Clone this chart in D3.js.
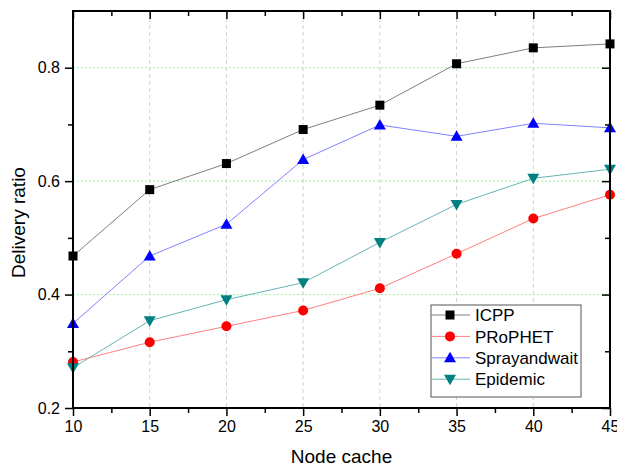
<!DOCTYPE html>
<html><head><meta charset="utf-8">
<script src="https://cdn.jsdelivr.net/npm/d3@7"></script>
<style>body{margin:0;background:#fff}svg{display:block}text{font-family:Arial,"Liberation Sans",sans-serif}</style>
</head><body>
<svg id="c" width="617" height="470"></svg>
<script>
const cache = [10, 15, 20, 25, 30, 35, 40, 45];
const icpp = [0.468, 0.585, 0.631, 0.691, 0.734, 0.807, 0.835, 0.842];
const prophet = [0.281, 0.316, 0.344, 0.372, 0.411, 0.472, 0.534, 0.576];
const spray = [0.349, 0.468, 0.524, 0.638, 0.699, 0.679, 0.702, 0.694];
const epidemic = [0.271, 0.354, 0.391, 0.421, 0.492, 0.559, 0.605, 0.621];
const xTicks = [10, 15, 20, 25, 30, 35, 40, 45];
const yTicks = [0.2, 0.4, 0.6, 0.8];

const series = [
  {name: "ICPP", vals: icpp, line: "#7f7f7f", fill: "#000000", sym: "square"},
  {name: "PRoPHET", vals: prophet, line: "#ff8080", fill: "#ff0000", sym: "circle"},
  {name: "Sprayandwait", vals: spray, line: "#8080ff", fill: "#0000ff", sym: "up"},
  {name: "Epidemic", vals: epidemic, line: "#66b3b3", fill: "#008080", sym: "down"}
];

const L = 73, R = 610, T = 11, B = 408;
const x = d3.scaleLinear().domain([10, 45]).range([L, R]);
const y = d3.scaleLinear().domain([0.2, 0.9]).range([B, T]);
const svg = d3.select("#c");

// grid
svg.append("g").selectAll("line").data(xTicks.slice(1, -1)).join("line")
  .attr("x1", d => x(d)).attr("x2", d => x(d)).attr("y1", T).attr("y2", B)
  .attr("stroke", "#d0d0d0").attr("stroke-width", 1).attr("stroke-dasharray", "4,3");
svg.append("g").selectAll("line").data(yTicks.slice(1)).join("line")
  .attr("x1", L).attr("x2", R).attr("y1", d => y(d)).attr("y2", d => y(d))
  .attr("stroke", "#a0f0a0").attr("stroke-width", 1).attr("stroke-dasharray", "2,2");

// symbols
function drawSym(g, sym, cx, cy, fill) {
  if (sym === "square") {
    g.append("rect").attr("x", cx - 4.5).attr("y", cy - 4.5).attr("width", 9).attr("height", 9).attr("fill", fill);
  } else if (sym === "circle") {
    g.append("circle").attr("cx", cx).attr("cy", cy).attr("r", 5).attr("fill", fill);
  } else if (sym === "up") {
    g.append("path").attr("d", `M${cx},${cy - 6}L${cx + 6},${cy + 4.5}L${cx - 6},${cy + 4.5}Z`).attr("fill", fill);
  } else {
    g.append("path").attr("d", `M${cx},${cy + 6}L${cx + 6},${cy - 4.5}L${cx - 6},${cy - 4.5}Z`).attr("fill", fill);
  }
}

const plot = svg.append("g");
const line = d3.line().x(d => x(d[0])).y(d => y(d[1]));
series.forEach(s => {
  const pts = cache.map((c, i) => [c, s.vals[i]]);
  plot.append("path").attr("d", line(pts)).attr("fill", "none").attr("stroke", s.line).attr("stroke-width", 1);
});
series.forEach(s => {
  const g = plot.append("g");
  cache.forEach((c, i) => drawSym(g, s.sym, x(c), y(s.vals[i]), s.fill));
});

// axes
const minorX = d3.range(12.5, 45, 5);
const minorY = [0.3, 0.5, 0.7];
const fmt = d3.format(".1f");
const ax = svg.append("g").attr("transform", `translate(0,${B})`)
  .call(d3.axisBottom(x).tickValues(xTicks).tickSize(8).tickFormat(d3.format("d")));
const ay = svg.append("g").attr("transform", `translate(${L},0)`)
  .call(d3.axisLeft(y).tickValues(yTicks).tickSize(8).tickFormat(fmt));
const axT = svg.append("g").attr("transform", `translate(0,${T})`)
  .call(d3.axisTop(x).tickValues(xTicks).tickSize(-8).tickFormat(""));
const ayR = svg.append("g").attr("transform", `translate(${R},0)`)
  .call(d3.axisRight(y).tickValues(yTicks).tickSize(-8).tickFormat(""));
svg.append("g").attr("transform", `translate(0,${B})`)
  .call(d3.axisBottom(x).tickValues(minorX).tickSize(5).tickFormat("")).select(".domain").remove();
svg.append("g").attr("transform", `translate(${L},0)`)
  .call(d3.axisLeft(y).tickValues(minorY).tickSize(5).tickFormat("")).select(".domain").remove();
svg.append("g").attr("transform", `translate(0,${T})`)
  .call(d3.axisTop(x).tickValues(minorX).tickSize(-5).tickFormat("")).select(".domain").remove();
svg.append("g").attr("transform", `translate(${R},0)`)
  .call(d3.axisRight(y).tickValues(minorY).tickSize(-5).tickFormat("")).select(".domain").remove();

svg.selectAll(".domain").attr("stroke", "#000").attr("stroke-width", 2).attr("d", null);
[ax, ay, axT, ayR].forEach(a => a.select(".domain").remove());
svg.append("rect").attr("x", L).attr("y", T).attr("width", R - L).attr("height", B - T)
  .attr("fill", "none").attr("stroke", "#000").attr("stroke-width", 2);
svg.selectAll(".tick line").attr("stroke", "#000").attr("stroke-width", 1.5);
svg.selectAll(".tick text").attr("font-size", 16).attr("fill", "#000")
  .attr("font-family", "Arial, 'Liberation Sans', sans-serif");
ax.selectAll(".tick text").attr("dy", "0.71em").attr("y", 13);
ay.selectAll(".tick text").attr("x", -13);

// titles
svg.append("text").attr("x", (L + R) / 2 + 0).attr("y", 463).attr("text-anchor", "middle")
  .attr("font-size", 19).text("Node cache");
svg.append("text").attr("transform", `translate(25,${(T + B) / 2 + 13}) rotate(-90)`)
  .attr("text-anchor", "middle").attr("font-size", 19).text("Delivery ratio");

// legend
const lg = svg.append("g");
lg.append("rect").attr("x", 431).attr("y", 305).attr("width", 150).attr("height", 92)
  .attr("fill", "#fff").attr("stroke", "#555").attr("stroke-width", 1);
series.forEach((s, i) => {
  const cy = 315 + i * 21.4;
  lg.append("line").attr("x1", 431).attr("x2", 470).attr("y1", cy).attr("y2", cy).attr("stroke", s.line);
  drawSym(lg, s.sym, 450, cy, s.fill);
  lg.append("text").attr("x", 475).attr("y", cy).attr("dy", "0.36em").attr("font-size", 17).text(s.name);
});
</script>
</body></html>
